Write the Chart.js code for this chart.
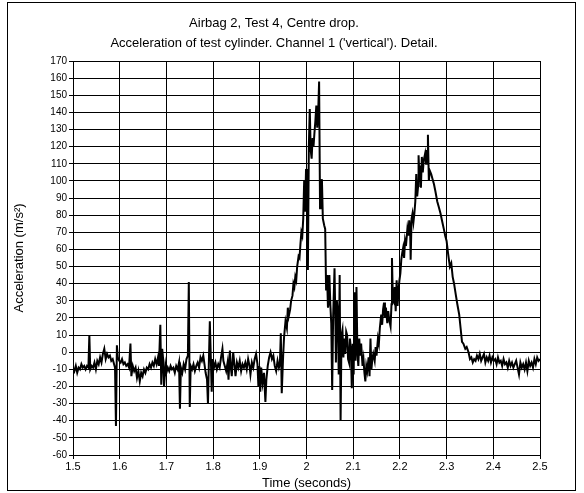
<!DOCTYPE html>
<html>
<head>
<meta charset="utf-8">
<script src="https://cdn.jsdelivr.net/npm/chart.js@4/dist/chart.umd.min.js"></script>
<style>
  html, body { margin: 0; padding: 0; background: #fff; }
  #wrap { width: 584px; height: 493px; position: relative; }
</style>
</head>
<body>
<div id="wrap"><canvas id="chart"></canvas></div>
<script>
// Time (s) and acceleration (m/s2)
const times = [
  1.500, 1.503, 1.506, 1.509, 1.512, 1.515, 1.518, 1.521, 1.524, 1.527, 1.530, 1.533, 1.535, 1.537, 1.540,
  1.543, 1.546, 1.549, 1.552, 1.555, 1.558, 1.561, 1.564, 1.567, 1.570, 1.573, 1.576, 1.579, 1.582, 1.585,
  1.588, 1.590, 1.592, 1.594, 1.596, 1.599, 1.602, 1.605, 1.608, 1.611, 1.614, 1.617, 1.620, 1.623, 1.625,
  1.628, 1.631, 1.634, 1.637, 1.640, 1.643, 1.646, 1.649, 1.652, 1.655, 1.658, 1.661, 1.664, 1.667, 1.670,
  1.673, 1.676, 1.679, 1.682, 1.684, 1.687, 1.689, 1.691, 1.693, 1.695, 1.698,
  1.700, 1.703, 1.706, 1.709, 1.712, 1.715, 1.718, 1.721, 1.724, 1.727, 1.729, 1.731, 1.734, 1.737, 1.740,
  1.743, 1.746, 1.748, 1.750, 1.752, 1.755, 1.758, 1.761, 1.764, 1.767, 1.770, 1.773, 1.776, 1.779, 1.782,
  1.784, 1.787, 1.789, 1.791, 1.793, 1.795, 1.797, 1.799, 1.802, 1.805, 1.808, 1.811, 1.814, 1.817, 1.820,
  1.822, 1.825, 1.828, 1.831, 1.833, 1.836, 1.838, 1.840, 1.843, 1.846, 1.848, 1.851, 1.854, 1.857, 1.860,
  1.863, 1.866, 1.869, 1.872, 1.875, 1.878, 1.880, 1.883, 1.886, 1.889, 1.892, 1.895, 1.897, 1.899,
  1.901, 1.903, 1.906, 1.909, 1.912, 1.914, 1.917, 1.920, 1.923, 1.926, 1.929, 1.932, 1.935, 1.938, 1.941,
  1.943, 1.945, 1.947, 1.950, 1.952, 1.955, 1.958, 1.960, 1.962, 1.965, 1.967, 1.970, 1.972, 1.974, 1.976,
  1.978, 1.980, 1.983, 1.985, 1.987, 1.989, 1.991, 1.993, 1.995, 1.997, 1.999, 2.001, 2.003, 2.005, 2.007,
  2.009, 2.011, 2.013, 2.015, 2.017, 2.019, 2.021, 2.023, 2.025, 2.027, 2.029, 2.031, 2.033, 2.035, 2.038,
  2.040, 2.042, 2.044, 2.046, 2.048, 2.049, 2.051, 2.053, 2.055, 2.057, 2.060, 2.062, 2.063, 2.065, 2.067,
  2.069, 2.071, 2.073, 2.075, 2.077, 2.079, 2.081, 2.083, 2.085, 2.087, 2.089, 2.091, 2.093, 2.095, 2.097,
  2.099, 2.101, 2.103, 2.105, 2.107, 2.109, 2.111, 2.113, 2.115, 2.117, 2.120, 2.122, 2.124, 2.126, 2.128,
  2.130, 2.133, 2.135, 2.137, 2.139, 2.141, 2.143, 2.146, 2.148, 2.150, 2.153, 2.155, 2.157, 2.160, 2.162,
  2.164, 2.166, 2.168, 2.170, 2.173, 2.175, 2.177, 2.180, 2.182, 2.183, 2.185, 2.187, 2.189, 2.191, 2.193,
  2.195, 2.197, 2.199, 2.201, 2.203, 2.205, 2.207, 2.209, 2.211, 2.213, 2.216, 2.218, 2.220, 2.222, 2.223,
  2.225, 2.227, 2.229, 2.231, 2.233, 2.235, 2.237, 2.239, 2.240, 2.242, 2.243, 2.245, 2.247, 2.249, 2.251,
  2.254, 2.256, 2.257, 2.259, 2.260, 2.262, 2.264, 2.267, 2.270, 2.273, 2.276, 2.280, 2.283, 2.287, 2.290,
  2.294, 2.297, 2.300, 2.303, 2.307, 2.310, 2.313, 2.316, 2.320, 2.323, 2.327, 2.330, 2.333, 2.336, 2.340,
  2.343, 2.347, 2.350, 2.353, 2.356, 2.359, 2.362, 2.365, 2.368, 2.371, 2.374, 2.377, 2.380, 2.383, 2.386,
  2.389, 2.392, 2.395, 2.398, 2.401, 2.404, 2.407, 2.410, 2.413, 2.416, 2.419, 2.422, 2.425, 2.428, 2.431,
  2.434, 2.437, 2.440, 2.443, 2.446, 2.449, 2.452, 2.455, 2.458, 2.461, 2.464, 2.467, 2.470, 2.473, 2.476,
  2.479, 2.482, 2.485, 2.488, 2.491, 2.494, 2.497, 2.500
];
const accel = [
  -9, -11, -8, -12, -9, -10, -7, -9, -8, -10, -8, -9, 10, -10, -8,
  -9, -6, -10, -5, -7, -3, -6, -1, 2, -4, -1, -3, -2, -5, -4,
  -7, -9, -43, 4, -3, -5, -6, -4, -7, -6, -8, -7, -9, 5, -14,
  -8, -11, -9, -15, -11, -17, -12, -14, -10, -12, -9, -10, -7, -9, -6,
  -8, -4, -7, -3, -8, 16, -19, 2, -4, -20, -8,
  -12, -9, -11, -8, -10, -9, -12, -8, -10, -6, -33, -9, -12, -7, -10,
  -4, -2, 41, -32, -8, -10, -7, -11, -8, -6, -9, -3, -5, -2, -8,
  -12, -16, -30, -5, 18, -2, -23, -4, -9, -6, -10, -7, -9, -3, 2,
  -5, -8, -11, -6, -16, 1, -9, -14, 0, -8, -14, -6, -9, -5, -11,
  -7, -9, -6, -10, -4, -8, -13, -6, -9, -4, -1, -7, -20, -8,
  -23, -9, -18, -12, -29, -16, -8, -3, 0, -4, -2, -8, -11, -5, -9,
  -7, 11, -24, -2, 9, 18, 14, 26, 21, 25, 30, 33, 40, 38, 44,
  42, 50, 56, 55, 63, 70, 68, 78, 100, 82, 107, 98, 48, 120, 142,
  118, 113, 125, 120, 128, 135, 144, 131, 140, 158, 84, 96, 101, 78, 74,
  72, 36, 45, 26, 30, 45, 28, 17, -22, 20, 49, 15, -6, 30, 24,
  -13, 45, -40, 10, 13, -3, 8, -1, 12, 10, -4, -6, 8, 2, -21,
  5, -13, 35, -5, 38, 0, -8, 8, -2, 5, -8, -4, -12, -17, -8,
  -11, -3, -14, 8, -10, -4, -1, -5, 3, -2, 8, 5, 14, 22, 16,
  25, 29, 20, 26, 17, 24, 19, 15, 28, 55, 30, 29, 38, 24, 42,
  27, 36, 42, 46, 54, 58, 61, 55, 65, 62, 72, 68, 77, 71, 54,
  78, 81, 76, 81, 88, 104, 91, 97, 115, 100, 109, 96, 114, 105, 112,
  116, 110, 118, 114, 127, 100, 106, 104, 101, 98, 94, 88, 85, 81, 77,
  72, 68, 65, 58, 50, 52, 44, 40, 33, 28, 22, 14, 6, 5, 2,
  3, 0, -4, -3, -6, -4, -5, -2, -4, -1, -5, -3, -1, -6, -3,
  -5, -2, -6, -3, -5, -4, -7, -3, -6, -5, -8, -4, -7, -6, -9,
  -5, -8, -6, -9, -7, -5, -9, -13, -6, -9, -7, -10, -6, -11, -5,
  -8, -6, -9, -4, -7, -3, -5, -4
];
const xTicks = [1.5, 1.6, 1.7, 1.8, 1.9, 2.0, 2.1, 2.2, 2.3, 2.4, 2.5];
const xTickLabels = ['1.5', '1.6', '1.7', '1.8', '1.9', '2', '2.1', '2.2', '2.3', '2.4', '2.5'];
const titleLines = ['Airbag 2, Test 4, Centre drop.', "Acceleration of test cylinder. Channel 1 ('vertical'). Detail."];

const FONT = "'Liberation Sans', Arial, sans-serif";

// white background plus the thin frame round the whole chart
const frame = {
  id: 'frame',
  beforeDraw(chart) {
    const c = chart.ctx;
    c.save();
    c.fillStyle = '#fff';
    c.fillRect(0, 0, chart.width, chart.height);
    c.strokeStyle = '#000';
    c.lineWidth = 1;
    c.strokeRect(7.5, 2.5, 568, 488);
    c.restore();
  }
};

const points = times.map((t, i) => ({ x: t, y: accel[i] }));

new Chart(document.getElementById('chart'), {
  type: 'line',
  data: {
    datasets: [{
      data: points,
      borderColor: '#000',
      borderWidth: 2,
      pointRadius: 0,
      tension: 0,
      fill: false
    }]
  },
  options: {
    responsive: true,
    maintainAspectRatio: false,
    animation: false,
    layout: { padding: { left: 8, right: 44, top: 0, bottom: 2 } },
    plugins: {
      legend: { display: false },
      tooltip: { enabled: false },
      title: {
        display: true,
        text: titleLines,
        color: '#000',
        font: { family: FONT, size: 13, weight: 'normal', lineHeight: 1.5 },
        padding: { top: 14, bottom: 8 }
      }
    },
    scales: {
      x: {
        type: 'linear',
        min: 1.5,
        max: 2.5,
        afterFit(scale) { scale.height = 36; },
        afterBuildTicks(scale) { scale.ticks = xTicks.map(v => ({ value: v })); },
        ticks: {
          color: '#000',
          font: { family: FONT, size: 11 },
          padding: 1,
          maxRotation: 0,
          autoSkip: false,
          callback: (v) => {
            const i = xTicks.findIndex(t => Math.abs(t - v) < 1e-6);
            return i >= 0 ? xTickLabels[i] : '';
          }
        },
        grid: { color: '#000', lineWidth: 1, tickLength: 4 },
        border: { color: '#000', width: 1 },
        title: {
          display: true,
          text: 'Time (seconds)',
          color: '#000',
          font: { family: FONT, size: 13 },
          padding: { top: 0, bottom: 0 }
        }
      },
      y: {
        min: -60,
        max: 170,
        afterFit(scale) { scale.width = 65; },
        ticks: {
          stepSize: 10,
          autoSkip: false,
          color: '#000',
          font: { family: FONT, size: 10 },
          padding: 2
        },
        grid: { color: '#000', lineWidth: 1, tickLength: 4 },
        border: { color: '#000', width: 1 },
        title: {
          display: true,
          text: 'Acceleration (m/s²)',
          color: '#000',
          font: { family: FONT, size: 13 },
          padding: { top: 4, bottom: 0 }
        }
      }
    }
  },
  plugins: [frame]
});
</script>
</body>
</html>
